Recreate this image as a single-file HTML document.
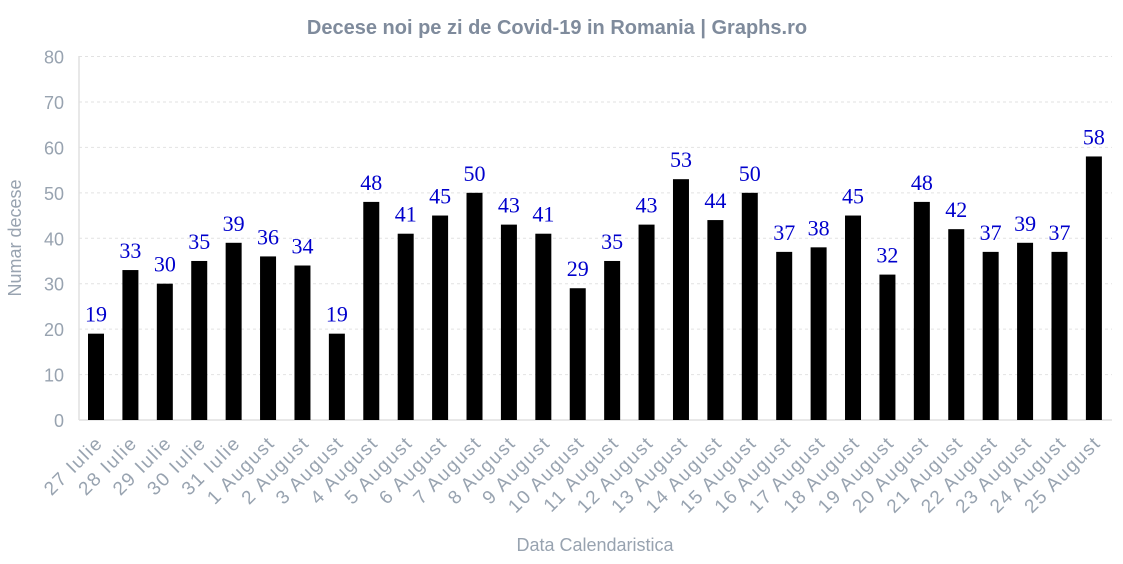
<!DOCTYPE html>
<html><head><meta charset="utf-8"><style>body{margin:0;background:#fff}svg{display:block}</style></head>
<body>
<svg id="c" width="1123" height="564" xmlns="http://www.w3.org/2000/svg" font-family="Liberation Sans, sans-serif">
<text x="557" y="34" text-anchor="middle" font-size="20" font-weight="bold" fill="#7f8b9c">Decese noi pe zi de Covid-19 in Romania | Graphs.ro</text>
<g id="grid"></g>
<line x1="79" y1="56" x2="79" y2="420" stroke="#e0e0e0" stroke-width="1.5"/>
<line x1="79" y1="420" x2="1112" y2="420" stroke="#e0e0e0" stroke-width="1.5"/>
<g id="bars"></g>
<text transform="translate(21,238) rotate(-90)" text-anchor="middle" font-size="18" fill="#98a3b0">Numar decese</text>
<text x="595" y="551" text-anchor="middle" font-size="18" fill="#98a3b0">Data Calendaristica</text>
</svg>
<script>
const NS="http://www.w3.org/2000/svg";
const vals=[19,33,30,35,39,36,34,19,48,41,45,50,43,41,29,35,43,53,44,50,37,38,45,32,48,42,37,39,37,58];
const labs=[];for(let i=27;i<=31;i++)labs.push(i+" Iulie");for(let i=1;i<=25;i++)labs.push(i+" August");
const y0=420,k=363.5/80;
const g=document.getElementById("grid"),b=document.getElementById("bars");
function el(t,a,p,txt){const e=document.createElementNS(NS,t);for(const x in a)e.setAttribute(x,a[x]);if(txt!=null)e.textContent=txt;p.appendChild(e);return e;}
for(let v=0;v<=80;v+=10){const y=y0-v*k;
 if(v>0)el("line",{x1:79,x2:1112,y1:y,y2:y,stroke:"#e2e2e2","stroke-dasharray":"3,3"},g);
 el("text",{x:64,y:y+7,"text-anchor":"end","font-size":"18",fill:"#98a3b0"},g,v);}
vals.forEach((v,i)=>{const cx=96+i*34.41,h=v*k;
 el("rect",{x:cx-8,y:y0-h,width:16,height:h,fill:"#000"},b);
 el("text",{x:cx,y:y0-h-12,"text-anchor":"middle","font-size":"22","font-family":"Liberation Serif, serif",fill:"#0000cc"},b,v);
 el("text",{transform:`translate(${cx+8},${444}) rotate(-45)`,"text-anchor":"end","font-size":"19","letter-spacing":"1.6",fill:"#98a3b0"},b,labs[i]);
});
</script>
</body></html>
